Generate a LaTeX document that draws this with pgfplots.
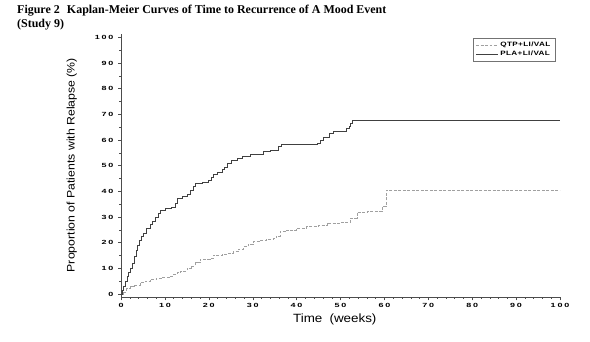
\documentclass[border=0pt]{standalone}
\usepackage{fontspec}
\usepackage{pgfplots}
\usepackage{pgfplotstable}
\pgfplotsset{compat=1.18}
\setmainfont{Liberation Serif}
\newfontfamily\labfont[FakeStretch=1.12]{Liberation Sans}
\newfontfamily\tickfont[FakeStretch=1.5,LetterSpace=30]{Liberation Sans}
\newfontfamily\legfont[FakeStretch=1.3,LetterSpace=6]{Liberation Sans}
\definecolor{qtpgray}{HTML}{A0A0A0}
\definecolor{pladark}{HTML}{404040}

\pgfplotstableread{
x y
0 0
0.3 1.5
0.6 3
1.0 5
1.3 6.8
1.7 8.5
2.0 10
2.5 12
3.0 14.6
3.5 17
3.8 19
4.1 21
4.6 22.5
5.1 23.7
5.8 25.5
6.6 27
7.2 28.5
7.8 30
8.5 31.5
9.0 32.5
10 33.3
11.5 33.8
12.3 35.5
12.8 37.4
14 38
15 38.7
15.8 40.5
16.4 42
16.9 43.2
18.5 43.5
19.9 44.5
20.5 45.5
21 46.5
22 47.5
23 48.5
23.5 49.5
24.1 51
25 52
26.4 53
27.5 53.5
29.4 54.3
31 54.6
32.4 55.6
34 56
35.8 57.5
36.5 58.2
44.6 58.9
45.3 60
46.1 61.2
47.5 62.5
48.4 63.4
51.4 64.7
52 65.5
52.3 66.5
52.6 67.7
100 67.7
}\pladata

\pgfplotstableread{
x y
0 0
0.5 0.8
1.3 2.2
2 3
3 3.5
4.3 4.4
5.5 5
6.6 5.7
8 6.2
9.5 6.6
11.2 7
12 7.8
12.7 8.3
13.5 9
15 10
16 11
17 12.2
18 13.5
20.3 13.9
21 15.2
23 15.6
24.5 16
25.6 16.5
26.8 17.5
27.9 18.5
29 19.5
30.1 20.4
31.5 20.8
33 21.2
34.7 21.7
35.3 22.5
36.2 24.3
37.5 24.7
38.5 25
40 25.6
42.3 26.3
45 26.6
46.9 27.6
50 27.9
52.2 29.6
53.7 31.8
56 32.1
59.4 34.1
60.4 40.4
100 40.4
}\qtpdata

\begin{document}
\begin{tikzpicture}
\useasboundingbox (0,0) rectangle (590bp,342bp);
\node[anchor=base west, inner sep=0pt, font=\fontsize{12}{14}\selectfont\bfseries] at (17bp,328bp) {Figure 2\hspace{0.6em}Kaplan-Meier Curves of Time to Recurrence of A Mood Event};
\node[anchor=base west, inner sep=0pt, font=\fontsize{12}{14}\selectfont\bfseries] at (17bp,314bp) {(Study 9)};
\begin{axis}[
  at={(121bp,44.7bp)}, anchor=south west,
  width=439bp, height=263.3bp, scale only axis,
  xmin=0, xmax=100, ymin=-1.3, ymax=101.3,
  axis x line=bottom, axis y line=left,
  axis line style={-, black!70, line width=0.5pt},
  xtick={0,10,...,100}, ytick={0,10,...,100},
  minor x tick num=4, minor y tick num=1,
  tick align=outside,
  major tick length=3bp, minor tick length=1.6bp,
  tick style={black!70, line width=0.4pt},
  /pgf/number format/assume math mode=true,
  tick label style={font=\fontsize{6}{7}\selectfont\tickfont\bfseries},
  yticklabel style={xshift=-1bp},
  xlabel={Time\hspace{0.6em}(weeks)},
  ylabel={Proportion of Patients with Relapse (\%)},
  every axis x label/.style={at={(axis description cs:0.487,-0.094)}, anchor=base, font=\fontsize{12}{14}\selectfont\labfont},
  every axis y label/.style={at={(axis description cs:-0.112,0.502)}, rotate=90, anchor=center, font=\fontsize{11}{13}\selectfont\labfont},
  legend style={at={(axis description cs:0.99,0.985)}, anchor=north east, draw=black!55, line width=0.4pt,
    font=\fontsize{6.3}{7.3}\selectfont\legfont\bfseries, inner xsep=3pt, inner ysep=2pt, row sep=-1pt, legend cell align=left},
  legend image code/.code={\draw[#1] (0bp,0bp) -- (22bp,0bp);},
]
\addplot[const plot, qtpgray, line width=0.45pt, dash pattern=on 3pt off 1.5pt] table {\qtpdata};
\addlegendentry{QTP+LI/VAL}
\addplot[const plot, pladark, line width=0.4pt] table {\pladata};
\addlegendentry{PLA+LI/VAL}
\end{axis}
\end{tikzpicture}
\end{document}
